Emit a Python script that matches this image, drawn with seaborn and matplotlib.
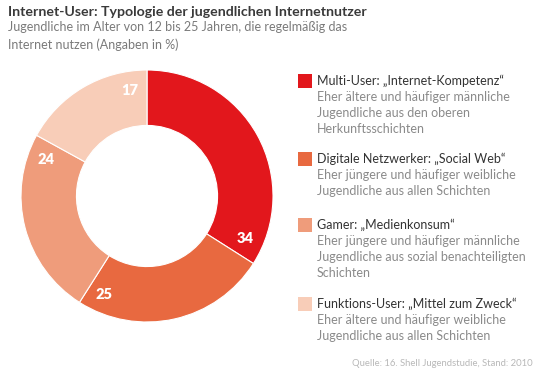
import numpy as np
import matplotlib
matplotlib.use("Agg")
import matplotlib.pyplot as plt
import seaborn as sns

# data
groups = ['Multi-User: „Internet-Kompetenz“',
          'Digitale Netzwerker: „Social Web“',
          'Gamer: „Medienkonsum“',
          'Funktions-User: „Mittel zum Zweck“']
descriptions = [
    ['Eher ältere und häufiger männliche', 'Jugendliche aus den oberen', 'Herkunftsschichten'],
    ['Eher jüngere und häufiger weibliche', 'Jugendliche aus allen Schichten'],
    ['Eher jüngere und häufiger männliche', 'Jugendliche aus sozial benachteiligten', 'Schichten'],
    ['Eher ältere und häufiger weibliche', 'Jugendliche aus allen Schichten'],
]
shares = [34, 25, 24, 17]
colors = ['#E2171C', '#E86940', '#EF9C7B', '#F8CDB8']

title = 'Internet-User: Typologie der jugendlichen Internetnutzer'
subtitle = ['Jugendliche im Alter von 12 bis 25 Jahren, die regelmäßig das',
            'Internet nutzen (Angaben in %)']
source = 'Quelle: 16. Shell Jugendstudie, Stand: 2010'

sns.set_theme(style="white")
plt.rcParams['font.family'] = ['Lato', 'DejaVu Sans']

W, H = 540, 379
fig = plt.figure(figsize=(W / 100, H / 100), dpi=100)
fig.patch.set_facecolor('white')


def px(x, y):
    return x / W, 1 - y / H


# donut
cx, cy, r = 147, 196, 126
ax = fig.add_axes([(cx - r) / W, 1 - (cy + r) / H, 2 * r / W, 2 * r / H])
ax.pie(shares, colors=colors, startangle=90, counterclock=False,
       wedgeprops=dict(width=0.44, edgecolor='white', linewidth=0.8))
ax.set_xlim(-1, 1)
ax.set_ylim(-1, 1)
ax.set_aspect('equal')
ax.axis('off')

# value labels near the end of each wedge
ends = np.cumsum(shares) / sum(shares) * 360
for val, end in zip(shares, ends):
    theta = np.deg2rad(90 - (end - 9))
    ax.text(0.85 * np.cos(theta), 0.85 * np.sin(theta), str(val),
            ha='center', va='center', color='white', fontsize=10.5,
            fontweight='heavy')

# title block
fig.text(*px(8, 12), title, fontsize=10.2, fontweight='bold', color='#3a3a3a',
         va='center', ha='left')
for i, line in enumerate(subtitle):
    fig.text(*px(8, 27 + i * 18), line, fontsize=9, color='#7a7a7a',
             va='center', ha='left')

# legend
heading_y = [81, 159, 225, 304]
for grp, desc, col, hy in zip(groups, descriptions, colors, heading_y):
    fig.patches.append(plt.Rectangle(px(298, hy + 7), 14 / W, 14 / H,
                                     transform=fig.transFigure,
                                     facecolor=col, edgecolor='none'))
    fig.text(*px(317, hy), grp, fontsize=9, color='#333333',
             va='center', ha='left')
    for j, line in enumerate(desc):
        fig.text(*px(317, hy + 16 * (j + 1)), line, fontsize=9,
                 color='#8a8a8a', va='center', ha='left')

fig.text(*px(533, 364), source, fontsize=6.8, color='#b8b8b8',
         va='center', ha='right')

fig.savefig('out.png', dpi=100, facecolor='white')
